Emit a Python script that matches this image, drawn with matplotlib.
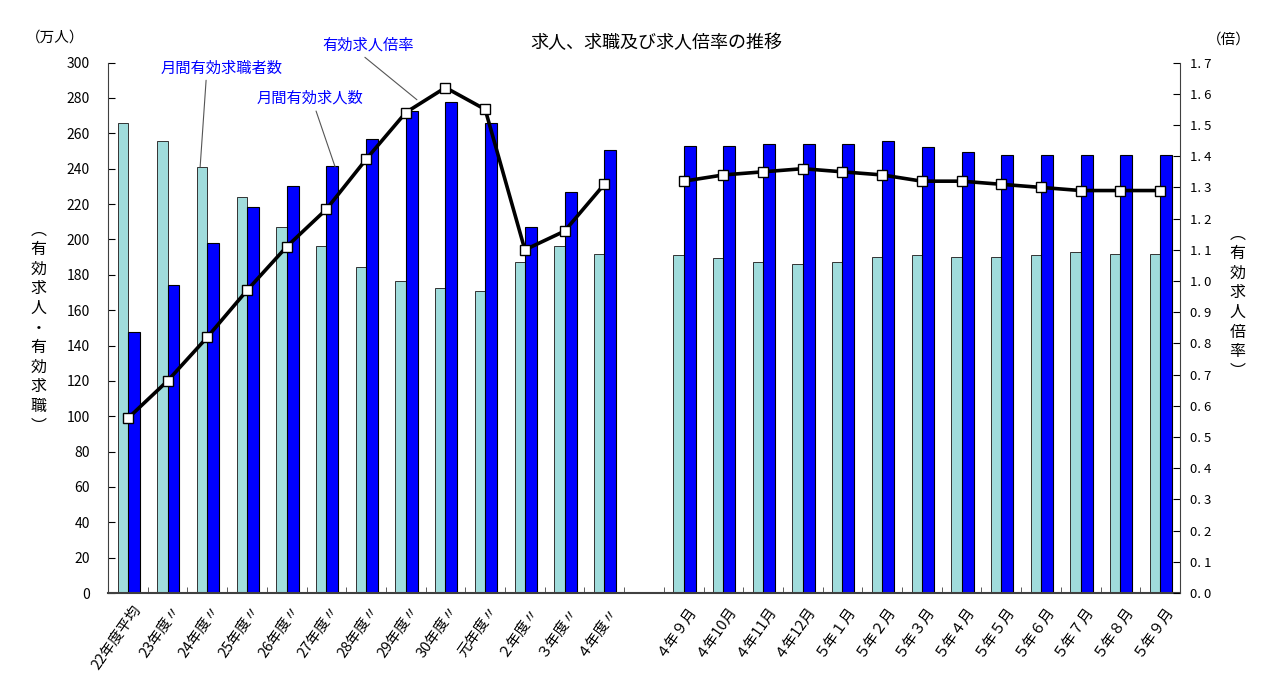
import matplotlib
matplotlib.use('Agg')
import matplotlib.pyplot as plt
import numpy as np

plt.rcParams['font.family'] = ['Noto Sans CJK JP', 'DejaVu Sans']

# 年度・月のラベル
labels_year = ['22年度平均', '23年度〃', '24年度〃', '25年度〃', '26年度〃', '27年度〃', '28年度〃',
               '29年度〃', '30年度〃', '元年度〃', '２年度〃', '３年度〃', '４年度〃']
labels_month = ['４年９月', '４年10月', '４年11月', '４年12月', '５年１月', '５年２月', '５年３月',
                '５年４月', '５年５月', '５年６月', '５年７月', '５年８月', '５年９月']

# 月間有効求職者数（万人）
kyushoku_year = [265.7, 255.5, 241.1, 224.0, 207.2, 196.1, 184.4, 176.6, 172.5, 170.6, 187.2, 196.1, 191.9]
kyushoku_month = [191.2, 189.5, 187.0, 186.0, 187.0, 190.2, 191.2, 190.2, 190.2, 191.2, 192.9, 191.9, 191.9]

# 月間有効求人数（万人）
kyujin_year = [147.6, 174.2, 198.0, 218.3, 230.4, 241.3, 256.6, 272.8, 277.7, 265.8, 207.2, 226.8, 250.6]
kyujin_month = [252.8, 252.8, 253.8, 253.8, 253.8, 255.5, 252.3, 249.6, 247.7, 247.7, 247.7, 247.7, 247.7]

# 有効求人倍率（倍）
bairitsu_year = [0.56, 0.68, 0.82, 0.97, 1.11, 1.23, 1.39, 1.54, 1.62, 1.55, 1.10, 1.16, 1.31]
bairitsu_month = [1.32, 1.34, 1.35, 1.36, 1.35, 1.34, 1.32, 1.32, 1.31, 1.30, 1.29, 1.29, 1.29]

x_year = np.arange(len(labels_year))
x_month = np.arange(len(labels_month)) + len(labels_year) + 1
x_all = np.concatenate([x_year, x_month])
labels_all = labels_year + labels_month
kyushoku = kyushoku_year + kyushoku_month
kyujin = kyujin_year + kyujin_month

light = '#a0dcdc'
dark = '#0000ff'

fig = plt.figure(figsize=(12.77, 6.88), dpi=100)
ax = fig.add_axes([0.0846, 0.138, 0.8394, 0.771])

ax.bar(x_all - 0.13, kyushoku, width=0.26, color=light, edgecolor='#333333', linewidth=0.7)
ax.bar(x_all + 0.15, kyujin, width=0.30, color=dark, edgecolor='black', linewidth=0.8)

ax.set_xlim(-0.5, x_all[-1] + 0.5)
ax.set_ylim(0, 300)
ax.set_yticks(np.arange(0, 301, 20))
ax.tick_params(axis='y', direction='in', length=5, pad=13, labelsize=10)
ax.set_xticks(x_all + 0.1)
ax.set_xticklabels(labels_all, rotation=55, ha='right', va='top', rotation_mode='anchor', fontsize=10.5)
ax.tick_params(axis='x', which='major', length=0, pad=7)
ax.set_xticks(np.arange(-0.5, x_all[-1] + 0.6, 1), minor=True)
ax.tick_params(axis='x', which='minor', direction='in', length=4, color='#404040')
for s in ['top', 'right']:
    ax.spines[s].set_visible(False)
ax.spines['bottom'].set_color('#404040')
ax.spines['bottom'].set_linewidth(1.5)
ax.spines['left'].set_color('#404040')

ax2 = ax.twinx()
ax2.plot(x_year, bairitsu_year, color='black', lw=2.6, marker='s', ms=7, mfc='white', mec='black', mew=1)
ax2.plot(x_month, bairitsu_month, color='black', lw=2.6, marker='s', ms=7, mfc='white', mec='black', mew=1)
ax2.set_ylim(0, 1.7)
ax2.set_yticks(np.arange(0, 1.71, 0.1))
ax2.set_yticklabels([f'{v:.1f}'.replace('.', '. ') for v in np.arange(0, 1.71, 0.1)])
ax2.tick_params(axis='y', direction='in', length=5, pad=7, labelsize=9.5)
ax2.spines['top'].set_visible(False)
ax2.spines['left'].set_visible(False)
ax2.spines['bottom'].set_visible(False)
ax2.spines['right'].set_color('#404040')

# 注記
lead = dict(arrowstyle='-', color='#555555', lw=0.8, shrinkA=0, shrinkB=0)
ax.text(2.36, 297, '月間有効求職者数', color='blue', fontsize=11, ha='center', va='center')
ax.annotate('', xy=(1.82, 241), xytext=(1.97, 290), arrowprops=lead)
ax.text(4.59, 280, '月間有効求人数', color='blue', fontsize=11, ha='center', va='center')
ax.annotate('', xy=(5.22, 241), xytext=(4.74, 272.6), arrowprops=lead)
ax.text(6.05, 310, '有効求人倍率', color='blue', fontsize=11, ha='center', va='center', clip_on=False)
ax.annotate('', xy=(7.28, 279), xytext=(5.97, 303), arrowprops=lead, annotation_clip=False)

fig.text(0.514, 0.938, '求人、求職及び求人倍率の推移', fontsize=13, ha='center', va='center')
fig.text(0.043, 0.945, '（万人）', fontsize=10.5, ha='center', va='center')
fig.text(0.962, 0.942, '（倍）', fontsize=10.5, ha='center', va='center')
fig.text(0.030, 0.523, '\n'.join('︵有効求人・有効求職︶'), fontsize=11.5, ha='center', va='center', linespacing=1.2)
fig.text(0.969, 0.56, '\n'.join('︵有効求人倍率︶'), fontsize=11.5, ha='center', va='center', linespacing=1.2)

fig.savefig('out.png', dpi=100)
